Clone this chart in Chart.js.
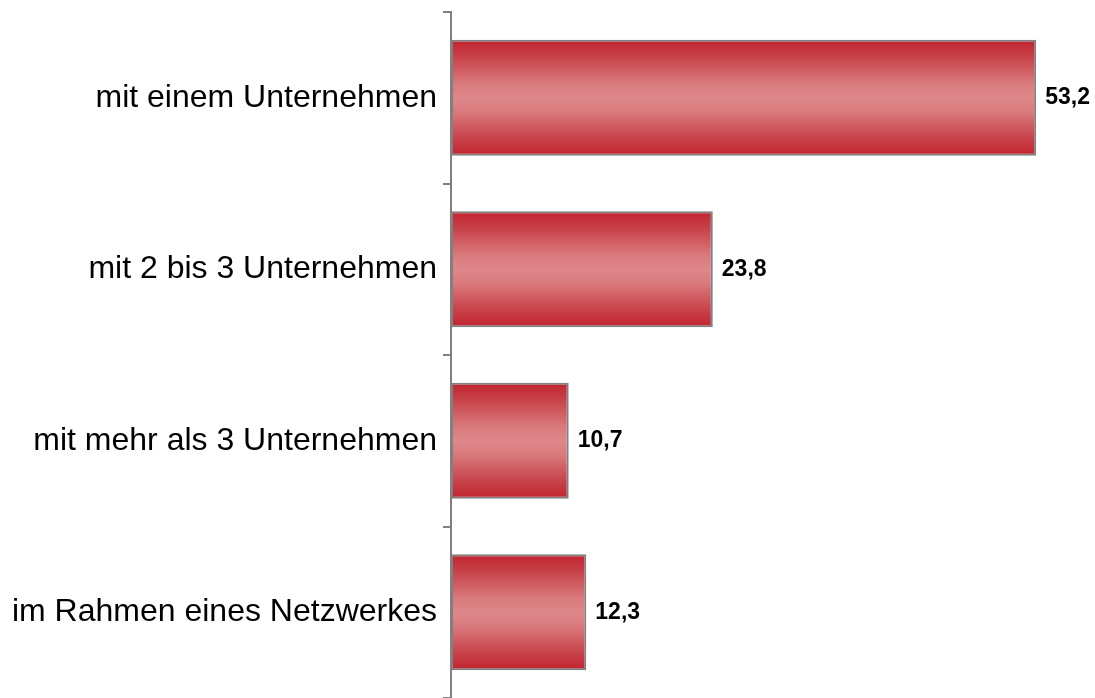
<!DOCTYPE html>
<html>
<head>
<meta charset="utf-8">
<script src="https://cdn.jsdelivr.net/npm/chart.js@4"></script>
<style>
  body { margin: 0; background: #fff; }
  #wrap { width: 1095px; height: 698px; position: relative; }
</style>
</head>
<body>
<div id="wrap"><canvas id="chart"></canvas></div>
<script>
const categories = ['mit einem Unternehmen', 'mit 2 bis 3 Unternehmen', 'mit mehr als 3 Unternehmen', 'im Rahmen eines Netzwerkes'];
const values = [53.2, 23.8, 10.7, 12.3];

const FONT = "'Liberation Sans', Arial, sans-serif";
const BAR_PCT = 0.676;

function barGradient(ctx) {
    const chart = ctx.chart;
    const area = chart.chartArea;
    if (!area || ctx.type !== 'data') return '#d05a60';
    const y = chart.scales.y.getPixelForValue(ctx.dataIndex);
    const h = (area.bottom - area.top) / categories.length * BAR_PCT;
    const g = chart.ctx.createLinearGradient(0, y - h / 2, 0, y + h / 2);
    g.addColorStop(0, '#c1232e');
    g.addColorStop(0.15, '#c8424a');
    g.addColorStop(0.38, '#d97a7d');
    g.addColorStop(0.5, '#de8789');
    g.addColorStop(0.62, '#d97a7d');
    g.addColorStop(0.85, '#c8424a');
    g.addColorStop(1, '#c1232e');
    return g;
}

const valueLabels = {
    id: 'valueLabels',
    afterDatasetsDraw(chart) {
        const c = chart.ctx;
        const meta = chart.getDatasetMeta(0);
        c.save();
        c.font = 'bold 23px ' + FONT;
        c.fillStyle = '#000';
        c.textAlign = 'left';
        c.textBaseline = 'middle';
        meta.data.forEach((bar, i) => {
            c.fillText(values[i].toFixed(1).replace('.', ','), bar.x + 9, bar.y);
        });
        c.restore();
    }
};

new Chart(document.getElementById('chart'), {
    type: 'bar',
    data: {
        labels: categories,
        datasets: [{
            data: values,
            backgroundColor: barGradient,
            borderColor: '#808080',
            borderWidth: 2,
            borderSkipped: false,
            categoryPercentage: BAR_PCT,
            barPercentage: 1
        }]
    },
    options: {
        indexAxis: 'y',
        responsive: true,
        maintainAspectRatio: false,
        animation: false,
        layout: { padding: { top: 12, right: 6, bottom: 0, left: 0 } },
        plugins: {
            legend: { display: false },
            tooltip: { enabled: false }
        },
        scales: {
            x: {
                display: false,
                min: 0,
                max: 58
            },
            y: {
                afterFit(scale) {
                    scale.width = 451;
                    scale.paddingTop = 0;
                    scale.paddingBottom = 0;
                },
                border: { display: true, color: '#808080', width: 2 },
                grid: {
                    offset: true,
                    drawOnChartArea: false,
                    drawTicks: true,
                    tickLength: 8,
                    color: '#808080',
                    lineWidth: 2
                },
                ticks: {
                    color: '#000',
                    padding: 6,
                    font: { family: FONT, size: 32 }
                }
            }
        }
    },
    plugins: [valueLabels]
});
</script>
</body>
</html>
